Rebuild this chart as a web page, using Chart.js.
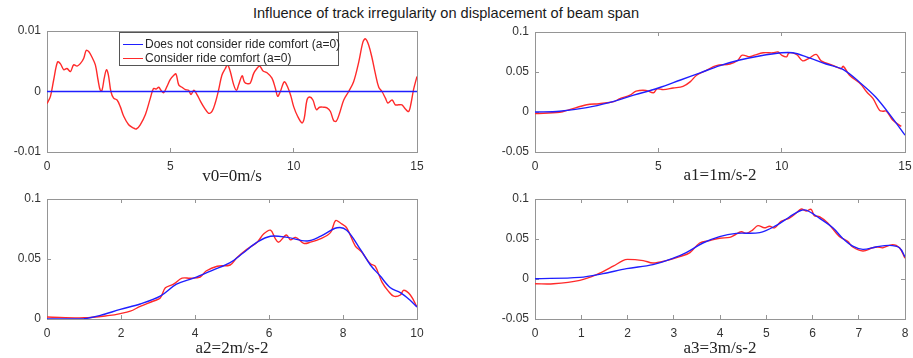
<!DOCTYPE html>
<html>
<head>
<meta charset="utf-8">
<script src="https://cdn.jsdelivr.net/npm/chart.js@4/dist/chart.umd.min.js"></script>
<style>
  html, body { margin: 0; padding: 0; background: #fff; overflow: hidden; }
  body { width: 913px; height: 358px; position: relative; }
  .box { position: absolute; }
  #title {
    position: absolute; left: 0; width: 892px; top: 5px; text-align: center;
    font: 14.6px "Liberation Sans", Arial, sans-serif; color: #1a1a1a;
  }
  #legend {
    position: absolute; left: 119px; top: 32px; width: 218px; height: 32px;
    border: 1px solid #555; background: #fff;
    font: 12px "Liberation Sans", Arial, sans-serif; color: #262626;
  }
  .row { position: absolute; left: 3px; height: 14px; line-height: 14px; white-space: nowrap; }
  .row i { display: inline-block; width: 20px; height: 0; border-top: 1.4px solid; vertical-align: middle; margin-right: 2px; }
</style>
</head>
<body>
<div id="title">Influence of track irregularity on displacement of beam span</div>

<script>
// ---- data ----
const SERIES_NAMES = ["Does not consider ride comfort (a=0)", "Consider ride comfort (a=0)"];
const BLUE = "#1f1fff";
const RED = "#ff2a2a";

// v0 = 0 m/s
const p1BlueX = [0, 15];
const p1Blue = [0, 0];
const p1RedX = [0, 0.14, 0.27, 0.43, 0.54, 0.68, 0.81, 0.95, 1.08, 1.22, 1.35, 1.49, 1.59, 1.69, 1.82, 1.96,
  2.07, 2.16, 2.23, 2.32, 2.41, 2.49, 2.59, 2.7, 2.84, 2.97, 3.11, 3.31, 3.49, 3.62, 3.78, 3.99, 4.19, 4.32,
  4.43, 4.53, 4.62, 4.73, 4.86, 5.0, 5.14, 5.23, 5.34, 5.47, 5.61, 5.74, 5.84, 5.95, 6.08, 6.22, 6.38, 6.55,
  6.69, 6.82, 6.96, 7.09, 7.23, 7.32, 7.43, 7.57, 7.68, 7.77, 7.91, 8.0, 8.11, 8.24, 8.38, 8.51, 8.62, 8.76,
  8.92, 9.12, 9.26, 9.35, 9.46, 9.62, 9.76, 9.89, 10.0, 10.16, 10.34, 10.43, 10.54, 10.65, 10.78, 10.92, 11.05,
  11.22, 11.35, 11.49, 11.62, 11.73, 11.86, 12.03, 12.23, 12.43, 12.64, 12.81, 12.91, 13.04, 13.18, 13.31,
  13.45, 13.58, 13.72, 13.82, 13.99, 14.12, 14.26, 14.39, 14.53, 14.66, 14.76, 14.86, 15.0];
const p1Red = [-0.002, -0.0008, 0.0019, 0.0049, 0.0046, 0.0036, 0.0038, 0.0033, 0.0044, 0.0042, 0.0046, 0.0055,
  0.0068, 0.0066, 0.0057, 0.0044, 0.0019, 0.0002, 0.0002, 0.0022, 0.0036, 0.0027, 0, -0.0011, -0.0014, -0.0025,
  -0.0041, -0.0055, -0.006, -0.0062, -0.0055, -0.0038, -0.0011, 0.0005, 0.0004, 0.0007, 0.0002, -0.0002, 0.0008,
  0.002, 0.0027, 0.0029, 0.0011, 0.0007, 0.0003, 0.0002, -0.0005, 0.0002, -0.0005, -0.0016, -0.0027, -0.0036,
  -0.0033, -0.0019, 0.0003, 0.0027, 0.0038, 0.0044, 0.0033, 0.0011, 0.0002, 0.0011, 0.0026, 0.0016, 0.0013,
  0.0014, 0.003, 0.0038, 0.0042, 0.0034, 0.0031, 0.0022, 0.0005, -0.0008, 0, 0.0016, 0.0007, -0.0008, -0.0025,
  -0.0041, -0.0052, -0.0044, -0.0014, -0.0009, -0.0014, -0.003, -0.0026, -0.0026, -0.0027, -0.0033, -0.0048,
  -0.0049, -0.0036, -0.0014, 0, 0.0016, 0.0049, 0.0082, 0.0087, 0.0077, 0.0055, 0.003, 0.0007, 0, -0.0011,
  -0.0019, -0.0014, -0.0022, -0.0022, -0.0022, -0.0029, -0.0033, -0.0019, 0.0003, 0.0025];

// a1 = 1 m/s-2
const p2BlueX = [0, 1.0, 2.1, 3.0, 4.0, 5.0, 5.9, 6.7, 7.5, 8.3, 9.1, 10.0, 10.45, 11.0, 11.8, 12.5, 13.2, 13.8, 14.5, 15.0];
const p2Blue = [0, 0.001, 0.0054, 0.0117, 0.021, 0.03, 0.04, 0.049, 0.058, 0.065, 0.07, 0.074, 0.074, 0.069,
  0.06, 0.053, 0.036, 0.019, -0.008, -0.029];
const p2RedX = [0, 1.0, 1.4, 2.1, 2.6, 3.2, 3.44, 3.85, 4.1, 4.5, 4.8, 4.95, 5.2, 5.6, 6.0, 6.3, 6.55, 6.95, 7.35,
  7.9, 8.2, 8.4, 8.7, 8.9, 9.25, 9.65, 9.85, 10.0, 10.2, 10.3, 10.6, 10.85, 11.1, 11.4, 11.6, 12.1, 12.4, 12.5,
  12.75, 13.2, 13.45, 13.7, 13.97, 14.1, 14.25, 14.5, 14.85];
const p2Red = [-0.002, -0.0004, 0.003, 0.009, 0.0104, 0.013, 0.0167, 0.021, 0.026, 0.027, 0.024, 0.029, 0.028,
  0.03, 0.032, 0.038, 0.046, 0.052, 0.058, 0.06, 0.064, 0.071, 0.069, 0.071, 0.074, 0.074, 0.075, 0.071, 0.069,
  0.074, 0.072, 0.064, 0.067, 0.072, 0.064, 0.058, 0.054, 0.057, 0.046, 0.035, 0.025, 0.017, 0.002, 0.001,
  0.001, -0.01, -0.018];

// a2 = 2 m/s-2
const p3BlueX = [0, 1.0, 1.44, 1.98, 2.52, 3.06, 3.5, 3.96, 4.5, 4.95, 5.3, 5.68, 6.04, 6.5, 7.03, 7.4, 7.84,
  8.1, 8.47, 8.74, 9.0, 9.28, 9.55, 9.8, 10.0];
const p3Blue = [0, 0.0003, 0.003, 0.008, 0.0125, 0.019, 0.029, 0.034, 0.041, 0.047, 0.055, 0.064, 0.069, 0.068,
  0.065, 0.069, 0.076, 0.074, 0.058, 0.045, 0.036, 0.026, 0.022, 0.016, 0.01];
const p3RedX = [0, 1.0, 1.7, 1.98, 2.25, 2.52, 2.88, 3.06, 3.2, 3.42, 3.65, 3.87, 4.14, 4.3, 4.6, 4.95, 5.13,
  5.4, 5.68, 5.86, 6.04, 6.17, 6.26, 6.47, 6.58, 6.72, 6.94, 7.12, 7.4, 7.66, 7.8, 7.93, 8.1, 8.33, 8.5, 8.74,
  8.87, 9.05, 9.23, 9.37, 9.55, 9.64, 9.82, 10.0];
const p3Red = [0.0017, 0.001, 0.003, 0.0045, 0.0065, 0.0105, 0.015, 0.0175, 0.026, 0.029, 0.034, 0.034, 0.035,
  0.04, 0.044, 0.045, 0.051, 0.058, 0.064, 0.071, 0.074, 0.067, 0.064, 0.07, 0.066, 0.068, 0.063, 0.064, 0.067,
  0.072, 0.082, 0.08, 0.076, 0.061, 0.056, 0.046, 0.044, 0.031, 0.023, 0.019, 0.02, 0.024, 0.02, 0.01];

// a3 = 3 m/s-2
const p4BlueX = [0, 0.97, 1.47, 1.98, 2.55, 2.99, 3.27, 3.63, 3.99, 4.35, 4.86, 5.22, 5.5, 5.72, 5.86, 6.15,
  6.44, 6.65, 6.87, 7.09, 7.37, 7.66, 7.88, 8.0];
const p4Blue = [0.0004, 0.002, 0.0067, 0.013, 0.018, 0.026, 0.033, 0.045, 0.053, 0.057, 0.058, 0.067, 0.0775,
  0.085, 0.086, 0.076, 0.064, 0.051, 0.041, 0.037, 0.04, 0.042, 0.039, 0.0275];
const p4RedX = [0, 0.4, 0.97, 1.33, 1.69, 1.9, 2.0, 2.34, 2.55, 2.84, 3.13, 3.35, 3.56, 3.78, 3.99, 4.21, 4.32,
  4.46, 4.57, 4.71, 4.82, 4.96, 5.07, 5.18, 5.32, 5.5, 5.65, 5.76, 5.86, 5.97, 6.04, 6.15, 6.33, 6.58, 6.76,
  6.87, 7.09, 7.3, 7.41, 7.52, 7.73, 7.88, 8.0];
const p4Red = [-0.006, -0.006, -0.0017, 0.0054, 0.016, 0.023, 0.0245, 0.023, 0.02, 0.023, 0.028, 0.033, 0.045,
  0.048, 0.051, 0.052, 0.055, 0.059, 0.057, 0.0615, 0.0667, 0.064, 0.066, 0.064, 0.072, 0.076, 0.0825, 0.0875,
  0.085, 0.087, 0.079, 0.078, 0.07, 0.053, 0.047, 0.04, 0.035, 0.039, 0.04, 0.039, 0.043, 0.039, 0.026];

// ---- tick labels ----
const xTicks15 = [0, 5, 10, 15];
const xTicks10 = [0, 2, 4, 6, 8, 10];
const xTicks8 = [0, 1, 2, 3, 4, 5, 6, 7, 8];
const yTicks1 = [-0.01, 0, 0.01];
const yTickLabels1 = ["-0.01", "0", "0.01"];
const yTicksA = [-0.05, 0, 0.05, 0.1];
const yTickLabelsA = ["-0.05", "0", "0.05", "0.1"];
const yTicksB = [0, 0.05, 0.1];
const yTickLabelsB = ["0", "0.05", "0.1"];

const X_LABELS = ["v0=0m/s", "a1=1m/s-2", "a2=2m/s-2", "a3=3m/s-2"];

// ---- layout ----
const Y_AXIS_W = 46;
const X_AXIS_H = 45;
const PAD_TOP = 10;
const PAD_RIGHT = 8;
const FRAME = "#959595";
const TICK_IN = -4; // negative tick length -> marks point into the plot
const LINE_W = 1.4;

function pts(xs, ys) {
  return xs.map((x, i) => ({ x, y: ys[i] }));
}

// fixed axis thickness, and no extra edge padding from the labels
function fixSize(size) {
  return (s) => {
    if (s.isHorizontal()) s.height = size; else s.width = size;
    s.paddingTop = s.paddingBottom = s.paddingLeft = s.paddingRight = 0;
  };
}

// one axis of the MATLAB-like box: border + inward tick marks
function edgeAxis(position, min, max, values, extra) {
  return Object.assign({
    type: "linear",
    position,
    min,
    max,
    afterBuildTicks: (s) => { s.ticks = values.map((v) => ({ value: v })); },
    grid: { display: true, drawOnChartArea: false, drawTicks: true, tickLength: TICK_IN, color: FRAME, lineWidth: 1 },
    border: { display: true, color: FRAME, width: 1 },
    ticks: { display: false },
    afterFit: fixSize(0),
  }, extra || {});
}

function makeChart(plot, xTicks, yTicks, yLabels, yMin, yMax, label, labelOff, blue, red) {
  const w = plot.right - plot.left + Y_AXIS_W + PAD_RIGHT;
  const h = plot.bottom - plot.top + PAD_TOP + X_AXIS_H;
  const div = document.createElement("div");
  div.className = "box";
  div.style.left = plot.left - Y_AXIS_W + "px";
  div.style.top = plot.top - PAD_TOP + "px";
  const canvas = document.createElement("canvas");
  canvas.width = w;
  canvas.height = h;
  div.appendChild(canvas);
  document.body.appendChild(div);

  const tickFont = { family: "'Liberation Sans', Arial, sans-serif", size: 12 };
  const titleSize = 17;
  const xMin = xTicks[0], xMax = xTicks[xTicks.length - 1];

  return new Chart(canvas.getContext("2d"), {
    type: "line",
    data: {
      datasets: [
        { label: SERIES_NAMES[0], data: pts(blue[0], blue[1]), borderColor: BLUE, borderWidth: LINE_W,
          pointRadius: 0, tension: 0.35, order: 1 },
        { label: SERIES_NAMES[1], data: pts(red[0], red[1]), borderColor: RED, borderWidth: LINE_W,
          pointRadius: 0, tension: 0.35, order: 2 },
      ],
    },
    options: {
      responsive: false,
      animation: false,
      layout: { padding: { top: PAD_TOP, right: PAD_RIGHT, left: 0, bottom: 0 } },
      plugins: { legend: { display: false }, tooltip: { enabled: false } },
      scales: {
        x: edgeAxis("bottom", xMin, xMax, xTicks, {
          afterFit: fixSize(X_AXIS_H),
          ticks: { display: true, font: tickFont, color: "#333", padding: 7 - TICK_IN, maxRotation: 0,
            callback: (v) => String(v) },
          title: {
            display: true,
            text: label,
            color: "#222",
            font: { family: "'Liberation Serif', 'Times New Roman', serif", size: titleSize, lineHeight: 1.2 },
            padding: { top: 0, bottom: X_AXIS_H - labelOff - titleSize * 0.6 },
          },
        }),
        xTop: edgeAxis("top", xMin, xMax, xTicks),
        y: edgeAxis("left", yMin, yMax, yTicks, {
          afterFit: fixSize(Y_AXIS_W),
          ticks: { display: true, font: tickFont, color: "#333", padding: 6 - TICK_IN,
            callback: (v, i) => yLabels[i] },
        }),
        yRight: edgeAxis("right", yMin, yMax, yTicks),
      },
    },
  });
}

// ---- legend (HTML, inside first plot) ----
function renderLegend() {
  const lg = document.createElement("div");
  lg.id = "legend";
  const colors = [BLUE, RED];
  SERIES_NAMES.forEach((name, i) => {
    const row = document.createElement("div");
    row.className = "row";
    row.style.top = 4 + i * 14 + "px";
    const sw = document.createElement("i");
    sw.style.borderColor = colors[i];
    row.appendChild(sw);
    row.appendChild(document.createTextNode(name));
    lg.appendChild(row);
  });
  document.body.appendChild(lg);
}

// ---- init ----
makeChart({ left: 47, right: 417, top: 31, bottom: 152 }, xTicks15, yTicks1, yTickLabels1, -0.01, 0.01,
  X_LABELS[0], 25, [p1BlueX, p1Blue], [p1RedX, p1Red]);
makeChart({ left: 535, right: 905, top: 32, bottom: 152 }, xTicks15, yTicksA, yTickLabelsA, -0.05, 0.1,
  X_LABELS[1], 24, [p2BlueX, p2Blue], [p2RedX, p2Red]);
makeChart({ left: 47, right: 417, top: 199, bottom: 319 }, xTicks10, yTicksB, yTickLabelsB, 0, 0.1,
  X_LABELS[2], 30, [p3BlueX, p3Blue], [p3RedX, p3Red]);
makeChart({ left: 535, right: 905, top: 199, bottom: 319 }, xTicks8, yTicksA, yTickLabelsA, -0.05, 0.1,
  X_LABELS[3], 30, [p4BlueX, p4Blue], [p4RedX, p4Red]);
renderLegend();
</script>
</body>
</html>
